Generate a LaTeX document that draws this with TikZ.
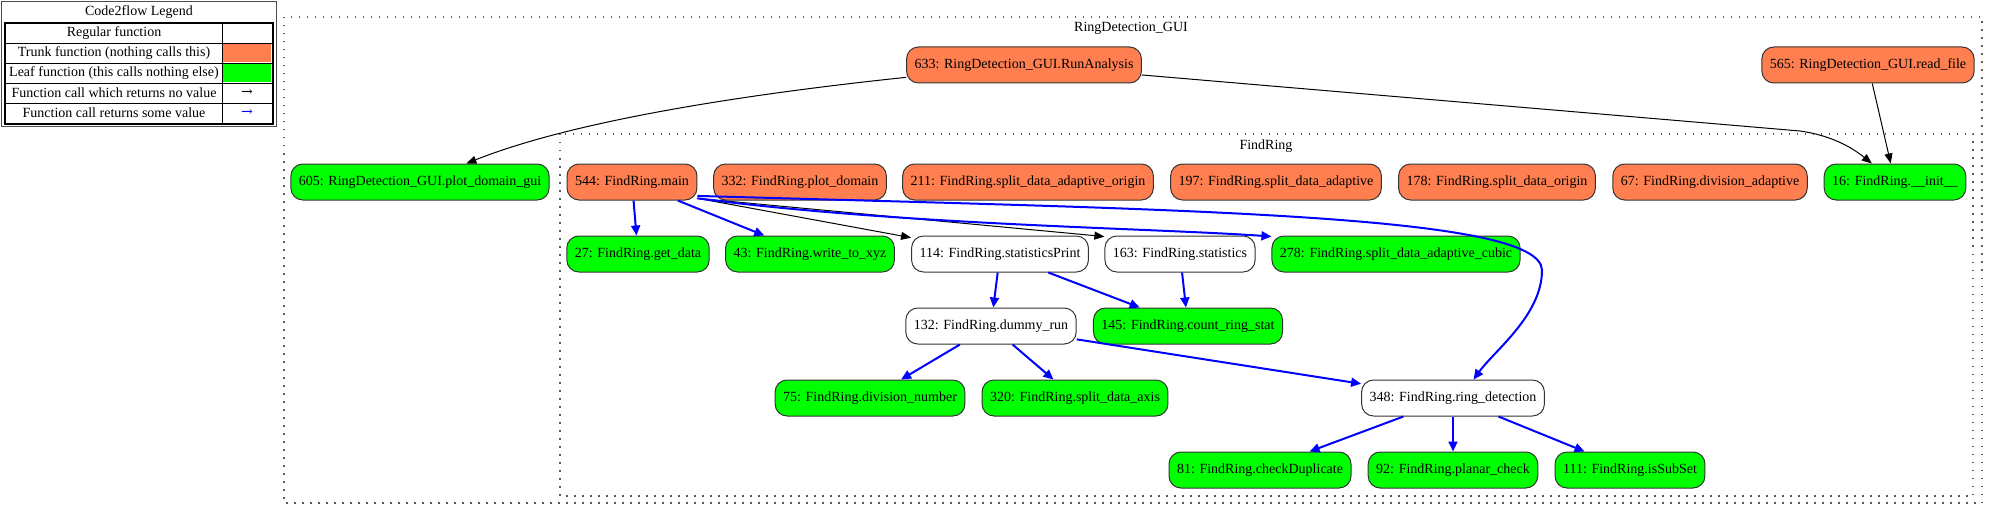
\documentclass[tikz,border=0pt]{standalone}
\usepackage{fontspec}
\setmainfont{Liberation Serif}
\newfontfamily\arrowfont{DejaVu Serif}
\usepackage{xcolor}
\usetikzlibrary{arrows.meta}
\definecolor{trunkcol}{HTML}{FF7F50}
\definecolor{leafcol}{HTML}{00FF00}

\begin{document}
\begin{tikzpicture}[x=1pt,y=-1pt,
    every node/.style={font=\fontsize{14}{16}\selectfont},
    fn/.style={draw=black!80,line width=1pt,fill=white,rounded corners=12pt,minimum height=36pt,inner xsep=8pt,inner ysep=0pt},
    trunk/.style={fn,fill=trunkcol},
    leaf/.style={fn,fill=leafcol},
    call/.style={black,line width=1pt,-{Triangle[length=10pt,width=8pt]}},
    ret/.style={blue,line width=2pt,-{Triangle[length=10pt,width=9pt]}},
    cluster/.style={black!65,line width=1.3pt,dash pattern=on 1.5pt off 6.5pt}]
    \useasboundingbox (0,0) rectangle (1994,516);

    % legend
    \draw[black!70,line width=1pt] (1.5,1.5) rectangle (276.5,126.5);
    \node (legtitle) at (139,12.5) {Code2flow Legend};
    \fill[trunkcol] (223,44) rectangle (271,62);
    \fill[leafcol] (223,64) rectangle (271,82);
    \foreach \y in {43,63,83,103} \draw (6,\y) -- (272,\y);
    \draw (222,23) -- (222,123);
    \draw[line width=2pt] (5,23) rectangle (273,124);
    \node (legregular) at (114,33.5) {Regular function};
    \node (legtrunk) at (114,53) {Trunk function (nothing calls this)};
    \node (legleaf) at (114,73) {Leaf function (this calls nothing else)};
    \node (legcall) at (114,93) {Function call which returns no value};
    \node (legret) at (114,113) {Function call returns some value};
    \node[font=\fontsize{14}{16}\arrowfont] (legcallarr) at (247,92.5) {→};
    \node[font=\fontsize{14}{16}\arrowfont,blue] (legretarr) at (247,112.5) {→};

    % clusters
    \draw[cluster] (284,17) rectangle (1982,503);
    \draw[cluster] (560,134) rectangle (1973,496);
    \node (guilabel) at (1131,28) {RingDetection\_GUI};
    \node (frlabel) at (1266,146) {FindRing};

    \node[trunk] (runanalysis) at (1024,65) {633: RingDetection\_GUI.RunAnalysis};
    \node[trunk] (readfile) at (1868,65) {565: RingDetection\_GUI.read\_file};
    \node[leaf] (plotgui) at (420,182) {605: RingDetection\_GUI.plot\_domain\_gui};
    \node[trunk] (main) at (632,182) {544: FindRing.main};
    \node[trunk] (plotdomain) at (800,182) {332: FindRing.plot\_domain};
    \node[trunk] (adaptorigin) at (1028,182) {211: FindRing.split\_data\_adaptive\_origin};
    \node[trunk] (adaptive) at (1276,182) {197: FindRing.split\_data\_adaptive};
    \node[trunk] (origin) at (1497,182) {178: FindRing.split\_data\_origin};
    \node[trunk] (divadapt) at (1710,182) {67: FindRing.division\_adaptive};
    \node[leaf] (init) at (1895,182) {16: FindRing.\_\_init\_\_};
    \node[leaf] (getdata) at (638,254) {27: FindRing.get\_data};
    \node[leaf] (writexyz) at (810,254) {43: FindRing.write\_to\_xyz};
    \node[fn] (statprint) at (1000,254) {114: FindRing.statisticsPrint};
    \node[fn] (stats) at (1180,254) {163: FindRing.statistics};
    \node[leaf] (cubic) at (1396,254) {278: FindRing.split\_data\_adaptive\_cubic};
    \node[fn] (dummy) at (991,326) {132: FindRing.dummy\_run};
    \node[leaf] (countstat) at (1188,326) {145: FindRing.count\_ring\_stat};
    \node[leaf] (divnum) at (870,398) {75: FindRing.division\_number};
    \node[leaf] (splitaxis) at (1075,398) {320: FindRing.split\_data\_axis};
    \node[fn] (ringdet) at (1453,398) {348: FindRing.ring\_detection};
    \node[leaf] (checkdup) at (1260,470) {81: FindRing.checkDuplicate};
    \node[leaf] (planar) at (1453,470) {92: FindRing.planar\_check};
    \node[leaf] (subset) at (1630,470) {111: FindRing.isSubSet};
    \coordinate (bend) at (1542,270);
    \coordinate (initbend) at (1800,131);

    \draw[call] (runanalysis) .. controls (757,93) and (578,119) .. (plotgui);
    \draw[call] (runanalysis) -- (initbend) .. controls (1835,136) and (1855,150) .. (init);
    \draw[call] (readfile) -- (init);
    \draw[ret] (main) -- (getdata);
    \draw[ret] (main) -- (writexyz);
    \draw[call] (main.-14) -- (statprint);
    \draw[call] (main.-14) -- (stats.167);
    \draw[ret] (main.-14) .. controls (900,225) and (1150,228) .. (cubic.172);
    \draw[ret] (main.-12) .. controls (1200,210) and (1540,215) .. (bend)
        .. controls (1542,315) and (1495,350) .. (ringdet.42);
    \draw[ret] (statprint) -- (dummy);
    \draw[ret] (statprint) -- (countstat);
    \draw[ret] (stats) -- (countstat);
    \draw[ret] (dummy) -- (divnum);
    \draw[ret] (dummy) -- (splitaxis);
    \draw[ret] (dummy) -- (ringdet);
    \draw[ret] (ringdet) -- (checkdup);
    \draw[ret] (ringdet) -- (planar);
    \draw[ret] (ringdet) -- (subset);
\end{tikzpicture}
\end{document}
